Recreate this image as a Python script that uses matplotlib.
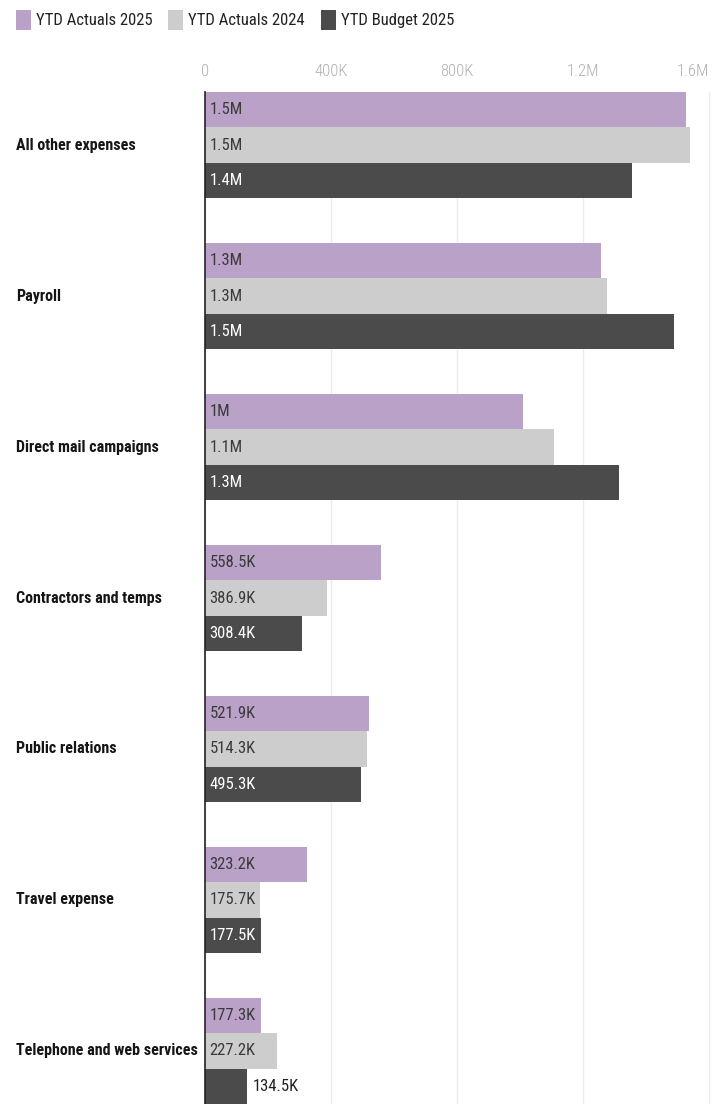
import matplotlib
matplotlib.use("Agg")
import matplotlib.pyplot as plt
from matplotlib.patches import Patch
from matplotlib.transforms import blended_transform_factory
import numpy as np

categories = [
    "All other expenses",
    "Payroll",
    "Direct mail campaigns",
    "Contractors and temps",
    "Public relations",
    "Travel expense",
    "Telephone and web services",
]
actuals_2025 = [1527000, 1257000, 1010000, 558500, 521900, 323200, 177300]
actuals_2024 = [1540000, 1276000, 1108000, 386900, 514300, 175700, 227200]
budget_2025 = [1356000, 1489000, 1314000, 308400, 495300, 177500, 134500]

series_names = ["YTD Actuals 2025", "YTD Actuals 2024", "YTD Budget 2025"]
series_colors = ["#b9a1c8", "#cdcdcd", "#4b4b4b"]
label_colors = ["#3a3a3a", "#3a3a3a", "#ffffff"]
tick_values = [0, 400000, 800000, 1200000, 1600000]
tick_labels = ["0", "400K", "800K", "1.2M", "1.6M"]

plt.rcParams["font.family"] = ["Roboto Condensed", "DejaVu Sans"]


def fmt(v):
    if v >= 1_000_000:
        s = f"{v / 1_000_000:.1f}".rstrip("0").rstrip(".")
        return s + "M"
    return f"{v / 1000:.1f}K"


fig = plt.figure(figsize=(7.25, 11.04), dpi=100)
ax = fig.add_axes([205 / 725, 0, (725 - 205 - 13) / 725, 1 - 92 / 1104])

bar_h = 0.235
y = np.arange(len(categories))
all_series = [actuals_2025, actuals_2024, budget_2025]
for i, vals in enumerate(all_series):
    pos = y + (i - 1) * bar_h
    ax.barh(pos, vals, height=bar_h, color=series_colors[i], zorder=2)
    for p, v in zip(pos, vals):
        if v > 150000:
            ax.text(14000, p, fmt(v), va="center", ha="left", fontsize=12,
                    color=label_colors[i], zorder=3)
        else:
            # too short to hold its label, put it after the bar end
            ax.text(v + 16000, p, fmt(v), va="center", ha="left", fontsize=12,
                    color="#222222", zorder=3)

ax.set_xlim(0, 1610000)
ax.set_ylim(len(categories) - 1 + 1.5 * bar_h, -1.5 * bar_h)

# category names sit flush left in the figure margin
ax.set_yticks(y)
ax.set_yticklabels([])
ax.tick_params(axis="y", length=0)
trans = blended_transform_factory(fig.transFigure, ax.transData)
for yy, name in zip(y, categories):
    ax.text(16 / 725, yy, name, transform=trans, ha="left", va="center",
            fontsize=11.5, fontweight="bold", color="#151515", clip_on=False)

ax.xaxis.tick_top()
ax.set_xticks(tick_values)
ax.set_xticklabels(tick_labels, fontsize=12, color="#b0b0b0", fontweight="light")
ax.get_xticklabels()[-1].set_horizontalalignment("right")
ax.tick_params(axis="x", length=0, pad=9)
ax.grid(axis="x", color="#ececec", linewidth=1, zorder=0)
for side in ["top", "right", "bottom"]:
    ax.spines[side].set_visible(False)
ax.spines["left"].set_color("#222222")
ax.spines["left"].set_linewidth(1.2)
ax.spines["left"].set_zorder(4)

handles = [Patch(facecolor=c, edgecolor="none") for c in series_colors]
fig.legend(handles, series_names, loc="upper left", bbox_to_anchor=(16 / 725, 1 - 10 / 1104),
           ncol=3, frameon=False, fontsize=12, handlelength=0.9, handleheight=1.45,
           handletextpad=0.3, columnspacing=0.95, borderpad=0, borderaxespad=0,
           labelcolor="#222222")

fig.savefig("out.png", dpi=100)
